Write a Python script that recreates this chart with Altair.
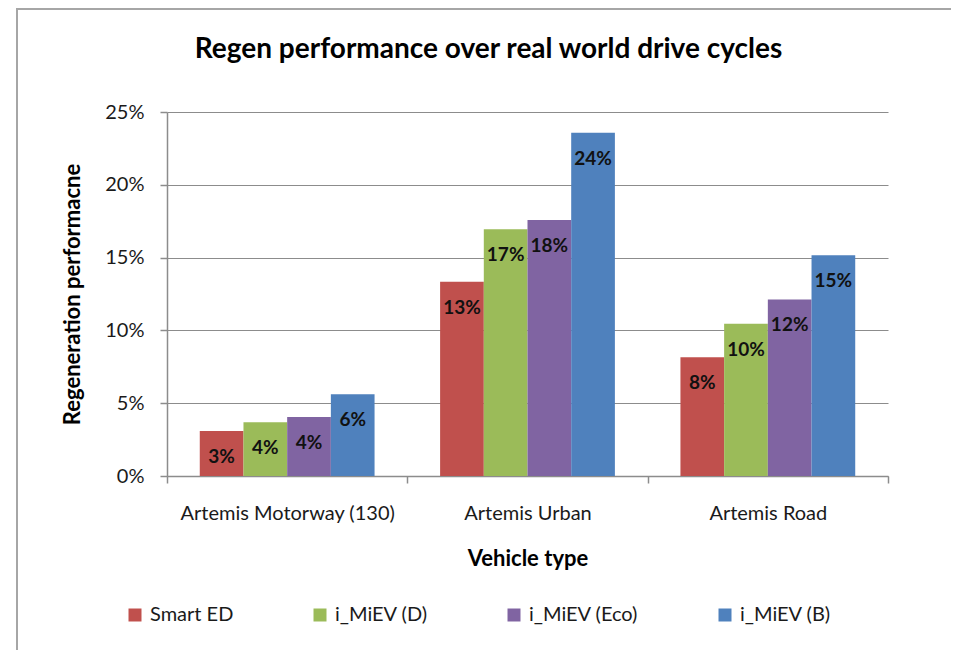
import altair as alt
import pandas as pd

categories = ["Artemis Motorway  (130)", "Artemis Urban", "Artemis Road"]
series = ["Smart ED", "i_MiEV (D)", "i_MiEV (Eco)", "i_MiEV (B)"]
smart_ed = [0.0309, 0.1334, 0.0815]
miev_d = [0.0369, 0.1694, 0.1046]
miev_eco = [0.0405, 0.1758, 0.1213]
miev_b = [0.0561, 0.2358, 0.1516]
colors = ["#C0504D", "#9BBB59", "#8064A2", "#4F81BD"]
y_ticks = [0, 0.05, 0.10, 0.15, 0.20, 0.25]

rows = []
for s, vals in zip(series, [smart_ed, miev_d, miev_eco, miev_b]):
    for c, v in zip(categories, vals):
        rows.append({"category": c, "series": s, "value": v})
df = pd.DataFrame(rows)

FONT = "Lato"
GRID = "#8c8c8c"

x = alt.X(
    "category:N", sort=categories,
    scale=alt.Scale(paddingInner=0, paddingOuter=0),
    axis=alt.Axis(title="Vehicle type", labelAngle=0, tickBand="extent", grid=False,
                  tickSize=7, labelPadding=20, titlePadding=25, labelFontSize=20,
                  titleFontSize=22, titleFontWeight="bold", labelLimit=400),
)
xoff = alt.XOffset("series:N", sort=series,
                   scale=alt.Scale(paddingOuter=0.75, paddingInner=0))
y = alt.Y(
    "value:Q", scale=alt.Scale(domain=[0, 0.25], nice=False, zero=True),
    axis=alt.Axis(values=y_ticks, format=".0%", title="Regeneration performacne",
                  tickSize=7, labelPadding=16, titlePadding=20, labelFontSize=20,
                  titleFontSize=22, titleFontWeight="bold", grid=True),
)
color = alt.Color(
    "series:N", sort=series,
    scale=alt.Scale(domain=series, range=colors),
    legend=alt.Legend(title=None, orient="none", legendX=-42, legendY=493,
                      direction="horizontal", columns=4, columnPadding=76,
                      symbolType="square", symbolSize=169, symbolStrokeWidth=0,
                      labelFontSize=20, labelFont=FONT, labelOffset=5,
                      labelColor="#1a1a1a"),
)

frame = pd.DataFrame({"k": [0]})
chart_frame = alt.Chart(frame).mark_rect(
    fill=None, fillOpacity=0, stroke="#a6a6a6", strokeWidth=2
).encode(x=alt.value(-150), x2=alt.value(900), y=alt.value(-103), y2=alt.value(700))

bars = alt.Chart(df).mark_bar().encode(x=x, xOffset=xoff, y=y, color=color)
labels = alt.Chart(df).mark_text(
    dy=26, fontWeight="bold", fontSize=19, font=FONT, color="#111111", baseline="middle"
).encode(x=x, xOffset=xoff, y=y, text=alt.Text("value:Q", format=".0%"))

chart = alt.layer(chart_frame, bars, labels).properties(
    width=721, height=364,
    title=alt.TitleParams("Regen performance over real world drive cycles",
                          fontSize=28, font=FONT, fontWeight="bold",
                          anchor="middle", dx=-39, offset=-78,
                          baseline="alphabetic", color="#000000"),
    autosize=alt.AutoSizeParams(type="none"),
    padding={"left": 159, "top": 104, "right": 63, "bottom": 174},
).configure_view(stroke=None).configure_axis(
    labelFont=FONT, titleFont=FONT, gridColor=GRID, domainColor=GRID,
    tickColor=GRID, labelColor="#1a1a1a", titleColor="#000000",
    gridWidth=1, domainWidth=1.5, tickWidth=1.5,
)

chart.save("out.html", embed_options={"renderer": "svg", "actions": False})
